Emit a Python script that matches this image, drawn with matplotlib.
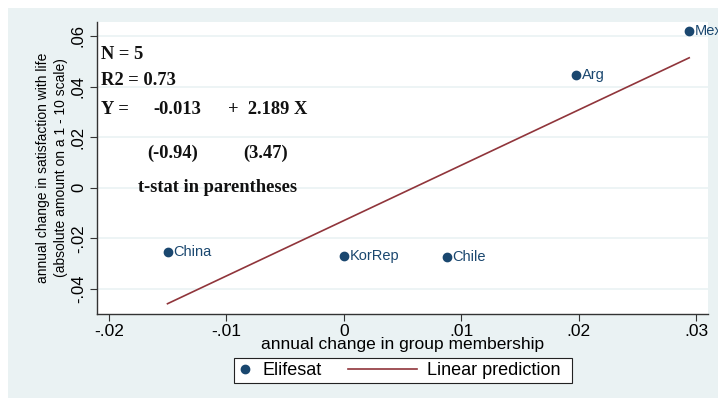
import matplotlib
matplotlib.use("Agg")
import matplotlib.pyplot as plt
from matplotlib.patches import Rectangle
from matplotlib.lines import Line2D
import numpy as np

# Country observations
countries = ["Mex", "Arg", "China", "KorRep", "Chile"]
group_change = [0.0294, 0.0198, -0.0150, 0.0000, 0.0088]
life_sat_change = [0.0620, 0.0447, -0.0253, -0.0269, -0.0273]

# Regression results
intercept = -0.013
slope = 2.189
n_obs = 5
r2 = 0.73
t_intercept = -0.94
t_slope = 3.47

xticks = [-0.02, -0.01, 0.0, 0.01, 0.02, 0.03]
xtick_labels = ["-.02", "-.01", "0", ".01", ".02", ".03"]
yticks = [-0.04, -0.02, 0.0, 0.02, 0.04, 0.06]
ytick_labels = ["-.04", "-.02", "0", ".02", ".04", ".06"]

BG = "#EAF2F3"
MARK = "#1A476F"
LINE = "#90353B"
SANS = "Liberation Sans"

W, H = 718, 398
fig = plt.figure(figsize=(W / 100, H / 100), dpi=100, facecolor="white")
fig.patches.append(Rectangle((8 / W, 0), 1 - 8 / W, 1 - 8 / H,
                             transform=fig.transFigure, facecolor=BG,
                             edgecolor="none", zorder=-10))

ax = fig.add_axes([97 / W, 1 - 314 / H, (708 - 97) / W, (314 - 22) / H])
ax.set_facecolor("white")
ax.set_xlim(-0.021, 0.031)
ax.set_ylim(-0.0499, 0.0655)

for yv in yticks:
    ax.axhline(yv, color=BG, lw=1.2, zorder=1)

ax.scatter(group_change, life_sat_change, s=36, color=MARK, zorder=3,
           clip_on=False)
for name, xv, yv in zip(countries, group_change, life_sat_change):
    ax.annotate(name, (xv, yv), xytext=(4, 0), textcoords="offset points",
                va="center", ha="left", fontsize=10.5, color=MARK,
                family=SANS, annotation_clip=False)

xs = np.array([min(group_change), max(group_change)])
ax.plot(xs, intercept + slope * xs, color=LINE, lw=1.2, zorder=2)

for side in ("top", "right"):
    ax.spines[side].set_visible(False)
for side in ("left", "bottom"):
    ax.spines[side].set_color("#333333")
    ax.spines[side].set_linewidth(1.0)

ax.set_xticks(xticks)
ax.set_xticklabels(xtick_labels, family=SANS, fontsize=12.5)
ax.set_yticks(yticks)
ax.set_yticklabels(ytick_labels, family=SANS, fontsize=12,
                   rotation=90, va="center")
ax.tick_params(axis="both", length=5, width=0.8, color="#333333")
ax.tick_params(axis="x", pad=2)
ax.tick_params(axis="y", pad=3)

ax.set_xlabel("annual change in group membership", family=SANS,
              fontsize=12.5, labelpad=-1)
ax.set_ylabel("annual change in satisfaction with life\n"
              "(absolute amount on a 1 - 10 scale)",
              family=SANS, fontsize=10, labelpad=2, linespacing=1.35)

serif = dict(family=["Liberation Serif", "DejaVu Serif"], fontweight="bold",
             fontsize=13.3, color="#111111", transform=ax.transAxes,
             va="center", ha="left")
ax.text(0.0065, 0.887, f"N = {n_obs}", **serif)
ax.text(0.0065, 0.801, f"R2 = {r2:.2f}", **serif)
ax.text(0.0065, 0.699, "Y =", **serif)
ax.text(0.092, 0.699, f"{intercept:.3f}", **serif)
ax.text(0.214, 0.699, f"+  {slope:.3f} X", **serif)
ax.text(0.083, 0.551, f"({t_intercept:.2f})", **serif)
ax.text(0.239, 0.551, f"({t_slope:.2f})", **serif)
ax.text(0.067, 0.432, "t-stat in parentheses", **serif)

# Legend: framed box holding two key entries of different handle widths
fig.patches.append(Rectangle((234 / W, 1 - 383 / H), (572 - 234) / W,
                             25 / H, transform=fig.transFigure,
                             facecolor="white", edgecolor="#222222",
                             lw=0.8, zorder=1))
leg_prop = {"family": SANS, "size": 13}
fig.legend([Line2D([], [], marker="o", ls="none", color=MARK,
                   markersize=6)], ["Elifesat"],
           loc="center left", bbox_to_anchor=(236 / W, 1 - 370.5 / H),
           frameon=False, handlelength=1.0, handletextpad=0.45,
           borderpad=0, borderaxespad=0, prop=leg_prop)
fig.legend([Line2D([], [], color=LINE, lw=1.2)], ["Linear prediction"],
           loc="center left", bbox_to_anchor=(348 / W, 1 - 370.5 / H),
           frameon=False, handlelength=3.8, handletextpad=0.6,
           borderpad=0, borderaxespad=0, prop=leg_prop)

fig.savefig("out.png", dpi=100, facecolor="white")
